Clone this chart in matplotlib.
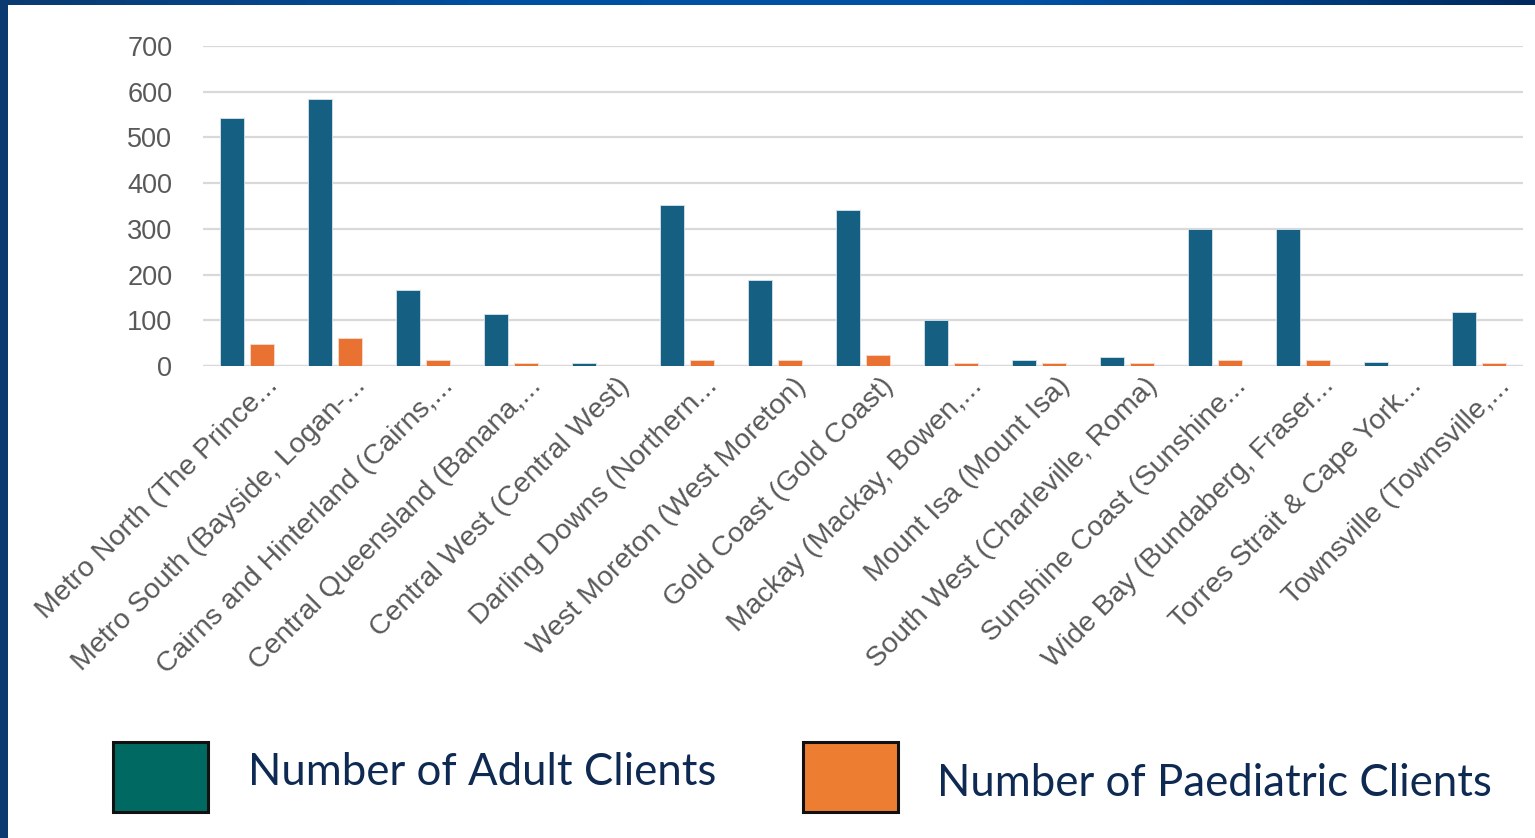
import numpy as np
import matplotlib
matplotlib.use("Agg")
import matplotlib.pyplot as plt
from matplotlib.colors import LinearSegmentedColormap
from matplotlib.patches import Rectangle

# Clients per Hospital and Health Service
services = [
    "Metro North (The Prince...",
    "Metro South (Bayside, Logan-...",
    "Cairns and Hinterland (Cairns,...",
    "Central Queensland (Banana,...",
    "Central West (Central West)",
    "Darling Downs (Northern...",
    "West Moreton (West Moreton)",
    "Gold Coast (Gold Coast)",
    "Mackay (Mackay, Bowen,...",
    "Mount Isa (Mount Isa)",
    "South West (Charleville, Roma)",
    "Sunshine Coast (Sunshine...",
    "Wide Bay (Bundaberg, Fraser...",
    "Torres Strait & Cape York...",
    "Townsville (Townsville,...",
]
adult_clients = [542, 583, 166, 113, 7, 353, 189, 342, 101, 14, 20, 300, 300, 8, 119]
paediatric_clients = [49, 61, 13, 7, 0, 13, 13, 24, 7, 7, 7, 13, 13, 0, 7]
y_ticks = [0, 100, 200, 300, 400, 500, 600, 700]

ADULT = "#156082"
PAED = "#E97132"
GRID = "#d9d9d9"
TICK = "#595959"
NAVY = "#0E2A52"

W, H = 1535, 838
fig = plt.figure(figsize=(W / 100, H / 100), dpi=100)
fig.patch.set_facecolor("white")

ax = fig.add_axes([203 / W, 1 - 366 / H, 1320 / W, 320 / H])
x = np.arange(len(services))
bw = 0.27
off = 0.17
ax.bar(x - off, adult_clients, width=bw, color=ADULT, edgecolor="#d6e4ec", linewidth=0.6, zorder=3)
ax.bar(x + off, paediatric_clients, width=bw, color=PAED, edgecolor="#f6dccd", linewidth=0.6, zorder=3)

ax.set_xlim(-0.5, len(services) - 0.5)
ax.set_ylim(0, 700)
ax.set_yticks(y_ticks)
ax.set_yticklabels([str(v) for v in y_ticks], fontsize=19.5, color=TICK, family="Liberation Sans")
ax.yaxis.grid(True, color=GRID, linewidth=1.6, zorder=0)
ax.tick_params(axis="y", length=0, pad=22)
ax.tick_params(axis="x", length=0, pad=5)
ax.set_xticks(x + 0.2)
ax.set_xticklabels(services, rotation=45, ha="right", va="top", rotation_mode="anchor",
                   fontsize=20.5, color=TICK, family="Liberation Sans")
for s in ax.spines.values():
    s.set_visible(False)
ax.axhline(0, color=GRID, linewidth=1.6, zorder=2)

# legend drawn by hand below the chart
fig.add_artist(Rectangle((113 / W, 1 - 812 / H), 95 / W, 70 / H, transform=fig.transFigure,
                         facecolor="#006A62", edgecolor="#111111", linewidth=2.2))
fig.add_artist(Rectangle((803 / W, 1 - 812 / H), 95 / W, 70 / H, transform=fig.transFigure,
                         facecolor="#ED7D31", edgecolor="#111111", linewidth=2.2))
fig.text(248 / W, 1 - 772 / H, "Number of Adult Clients", fontsize=31.5, color=NAVY,
         family="Lato", va="center", ha="left")
fig.text(937 / W, 1 - 783 / H, "Number of Paediatric Clients", fontsize=31.5, color=NAVY,
         family="Lato", va="center", ha="left")

# slide frame: left bar and gradient strip along the top
fig.add_artist(Rectangle((0, 0), 8 / W, 1, transform=fig.transFigure,
                         facecolor="#0B3A70", edgecolor="none"))
top = fig.add_axes([0, 1 - 5 / H, 1, 5 / H])
cmap = LinearSegmentedColormap.from_list("frame", ["#0B3A70", "#0050A2", "#0052A6", "#002A5E"])
top.imshow(np.linspace(0, 1, 256)[None, :], aspect="auto", cmap=cmap)
top.set_axis_off()

fig.savefig("out.png", dpi=100)
